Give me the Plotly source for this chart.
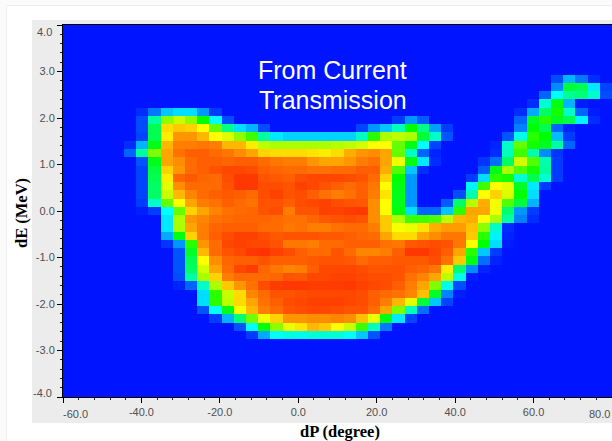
import plotly.graph_objects as go

# Chart text and axis labels
x_tick_values = [-60, -40, -20, 0, 20, 40, 60, 80]
x_tick_labels = ["", "-40.0", "-20.0", "0.0", "20.0", "40.0", "60.0", ""]
y_tick_values = [4, 3, 2, 1, 0, -1, -2, -3, -4]
y_tick_labels = ["", "3.0", "2.0", "1.0", "0.0", "-1.0", "-2.0", "-3.0", ""]
overlay_lines = ["From Current", "Transmission"]

# Grid: 45 columns across dP, 45 rows down dE (top row first); values read as % intensity.
Z = [[0] for _ in range(6)] + [
    [0]*40 + [7,18,12,3],
    [0]*40 + [14,43,40,23,6],
    [0]*39 + [10,25,34,36,30,7],
    [0]*38 + [3,29,48,18,1],
    [0]*6 + [3,12,20,22,22,15,5] + [0]*24 + [3,17,38,51,30,10,1],
    [0]*6 + [7,33,58,63,58,50,25,7] + [0]*13 + [5,15,9] + [0]*7 + [10,45,52,46,40,24,3],
    [0]*6 + [7,40,74,76,75,70,55,35,22,18,7] + [0]*7 + [6,15,20,31,50,35,16,5] + [0]*5 + [13,50,40,10,2],
    [0]*6 + [6,40,72,82,82,78,70,65,58,53,33,23,21, 21,21,21,21,21, 30,52,60,62,60,43,30,8] + [0]*4 + [8,27,52,50,19,5],
    [0]*5 + [3,18,47,78,85,85,86,85,78,78,72,62,60,60, 60,60,60,61,62, 64,70,70,55,48,25,6] + [0]*4 + [2,30,55,51,46,33,10],
    [0]*5 + [10,33,57,80,87,90,90,88,86,83,80,75,74,74, 74,73,72,74,79,82,83,80, 55,30,10,2] + [0]*4 + [3,31,53,32,14,4],
    [0]*6 + [8,47,80,83,88,90,90,89,90,90,88,86,85, 85,82,80,80,82,85,87,80, 68,48,23,3] + [0]*3 + [4,11,38,64,54,32,5],
    [0]*6 + [6,42,75,82,88,90,92,94,94,93,90,89,88, 88,87,87,88,88,90,90,79, 54,20,3] + [0]*4 + [9,47,60,54,51,33,5],
    [0]*6 + [6,40,72,89,91,89,88,93,97,97,92,91,90, 93,94,94,94,93,92,88,75, 50,15] + [0]*4 + [5,22,52,51,29,40,29,5],
    [0]*6 + [6,38,66,83,88,88,88,92,97,97,93,93,92, 95,94,92,90,88,90,86,70, 48,15] + [0]*4 + [24,53,70,66,45,23,5],
    [0]*6 + [6,38,63,78,84,88,90,91,90,88,93,95,92, 93,90,87,85,87,90,85,73, 47,15] + [0]*3 + [7,32,70,75,65,50,22],
    [0]*6 + [5,30,55,70,80,85,87,90,88,87,92,92,90, 93,94,95,93,92,91,83,70, 47,15] + [0]*2 + [9,38,61,79,68,54,43,18],
    [0]*6 + [1,5,25,55,75,80,84,87,88,89,92,93,85, 92,92,95,95,96,97,83,70, 49,22,10,10,20,52,80,80,68,37,15,5],
    [0]*8 + [23,60,82,84,87,88,89,89,89,88,87, 87,89,91,92,93,92,83,76, 60,53,53,54,62,78,79,70,60,33,13,3],
    [0]*8 + [23,60,80,85,89,90,90,90,88,88,86, 87,85,85,87,88,88,85,76, 69,67,73,79,81,81,77,58,30,3],
    [0]*8 + [17,48,75,85,90,93,95,95,93,91,92, 92,92,91,91,90,89,88,80, 74,74,80,83,86,86,76,52,24,2],
    [0]*8 + [4,15,52,82,88,94,95,94,94,92,86, 86,85,88,88,90,90,90,87, 86,91,92,93,92,86,70,50,22,1],
    [0]*9 + [8,45,78,88,92,94,97,98,95,93, 90,88,88,92,88,84,84,85, 90,97,97,94,90,80,52,20,5],
    [0]*9 + [8,40,70,83,89,90,90,92,90,90, 90,91,92,92,91,88,90,90, 91,91,91,93,87,76,48,11,2],
    [0]*9 + [8,38,64,80,88,94,96,89,86,84, 85,90,94,94,94,93,92,92, 92,90,89,86,72,37,14,2],
    [0]*9 + [7,33,60,75,85,88,88,88,89,92, 91,94,94,95,95,94,93,93, 92,87,84,80,62,28,1],
    [0]*9 + [2,10,30,60,76,82,87,93,96,97, 97,96,96,96,97,95,94,93, 90,85,80,57,27,7],
    [0]*11 + [22,52,63,74,84,88,92,92, 93,94,94,94,94,93,90,88, 87,84,77,45,13,1],
    [0]*11 + [22,52,62,74,80,87,90,93, 94,95,95,95,94,93,90,85, 78,66,43,20,6],
    [0]*11 + [8,25,47,68,78,85,88,92, 93,94,94,93,92,92,88,80, 57,31,11],
    [0]*12 + [5,18,36,56,68,75,82, 82,83,83,84,83,77,67,48,23,6],
    [0]*14 + [8,25,48,58,67, 73,78,76,70,63,53,31,12],
    [0]*15 + [5,17,26,28, 27,29,29,29,26,20,8],
] + [[0] for _ in range(7)]

N_CELLS = 45
X_MIN, X_MAX = -60.0, 80.0
Y_MIN, Y_MAX = -4.0, 4.0
dx = (X_MAX - X_MIN) / N_CELLS
dy = (Y_MAX - Y_MIN) / N_CELLS
x_centers = [X_MIN + dx * (i + 0.5) for i in range(N_CELLS)]
y_centers = [Y_MAX - dy * (j + 0.5) for j in range(N_CELLS)]
z = [row + [0] * (N_CELLS - len(row)) for row in Z]

colorscale = [
    [0.00, "rgb(0,20,255)"], [0.05, "rgb(0,60,255)"], [0.10, "rgb(0,100,255)"],
    [0.15, "rgb(0,150,255)"], [0.20, "rgb(0,200,255)"], [0.25, "rgb(0,255,255)"],
    [0.30, "rgb(0,255,200)"], [0.35, "rgb(0,255,130)"], [0.40, "rgb(0,255,80)"],
    [0.50, "rgb(0,255,0)"], [0.55, "rgb(100,255,0)"], [0.60, "rgb(170,255,0)"],
    [0.65, "rgb(220,255,0)"], [0.70, "rgb(255,255,0)"], [0.75, "rgb(255,210,0)"],
    [0.80, "rgb(255,165,0)"], [0.85, "rgb(255,125,0)"], [0.90, "rgb(255,95,0)"],
    [0.95, "rgb(255,65,0)"], [1.00, "rgb(255,40,0)"],
]

W, H = 612, 441
ML, MR, MT, MB = 63, 0, 25, 44
PW, PH = W - ML - MR, H - MT - MB
def px_x(p): return (p - ML) / PW
def px_y(p): return 1 - (p - MT) / PH

TICK_FONT = dict(family="Liberation Sans", size=11, color="#505050")
TITLE_FONT = dict(family="Liberation Serif", size=16.5, color="#000000")

fig = go.Figure(go.Heatmap(
    x=x_centers, y=y_centers, z=z, zmin=0, zmax=100, zsmooth=False,
    colorscale=colorscale, showscale=False,
))

annotations = []
for text, centre_px in zip(overlay_lines, [70, 100]):
    annotations.append(dict(text=text, x=px_x(332.5), y=px_y(centre_px), xref="paper", yref="paper",
                            xanchor="center", yanchor="middle", showarrow=False,
                            font=dict(family="Liberation Sans", size=25, color="#ffffff")))
# End labels sit inside the axis span in the reference.
for text, xp, yp, xa in [("-60.0", 75.5, 414, "center"), ("80.0", 611.5, 414, "right")]:
    annotations.append(dict(text=text, x=px_x(xp), y=px_y(yp), xref="paper", yref="paper",
                            xanchor=xa, yanchor="middle", showarrow=False, font=TICK_FONT))
for text, yp in [("4.0", 32.5), ("-4.0", 393)]:
    annotations.append(dict(text=text, x=px_x(53.5), y=px_y(yp), xref="paper", yref="paper",
                            xanchor="right", yanchor="middle", showarrow=False, font=TICK_FONT))
annotations.append(dict(text="<b>dP (degree)</b>", x=px_x(340), y=px_y(431.5), xref="paper", yref="paper",
                        xanchor="center", yanchor="middle", showarrow=False, font=TITLE_FONT))
annotations.append(dict(text="<b>dE (MeV)</b>", x=px_x(21), y=px_y(213), xref="paper", yref="paper",
                        xanchor="center", yanchor="middle", textangle=-90, showarrow=False, font=TITLE_FONT))

shapes = [
    dict(type="rect", xref="paper", yref="paper", layer="below",
         x0=px_x(6.5), x1=px_x(640), y0=px_y(5.5), y1=px_y(470),
         fillcolor="#ffffff", line=dict(color="#eeeeee", width=1)),
    dict(type="rect", xref="paper", yref="paper", layer="below",
         x0=px_x(32), x1=1.05, y0=px_y(20), y1=px_y(423),
         fillcolor="#ececec", line=dict(width=0)),
]

fig.update_layout(
    width=W, height=H, margin=dict(l=ML, r=MR, t=MT, b=MB, autoexpand=False),
    paper_bgcolor="#fbfbfb", plot_bgcolor="#0014ff", showlegend=False,
    annotations=annotations, shapes=shapes,
    xaxis=dict(range=[X_MIN, X_MAX], tickmode="array", tickvals=x_tick_values, ticktext=x_tick_labels,
               ticks="outside", ticklen=5, tickcolor="#000000", tickfont=TICK_FONT,
               showline=True, linecolor="#000000", linewidth=1, mirror=True, showgrid=False, zeroline=False,
               minor=dict(tickmode="linear", tick0=-60, dtick=4, ticks="outside", ticklen=2, tickcolor="#222222", showgrid=False)),
    yaxis=dict(range=[Y_MIN, Y_MAX], tickmode="array", tickvals=y_tick_values, ticktext=y_tick_labels,
               ticks="outside", ticklen=5, tickcolor="#000000", tickfont=TICK_FONT,
               showline=True, linecolor="#000000", linewidth=1, showgrid=False, zeroline=False,
               minor=dict(tickmode="linear", tick0=-4, dtick=0.2, ticks="outside", ticklen=2, tickcolor="#222222", showgrid=False)),
)

# The page's default 8px body margin would push the 612x441 figure out of the window.
fig.write_html("out.html", config={"displayModeBar": False},
               post_script="document.body.style.margin='0';document.documentElement.style.overflow='hidden';")
